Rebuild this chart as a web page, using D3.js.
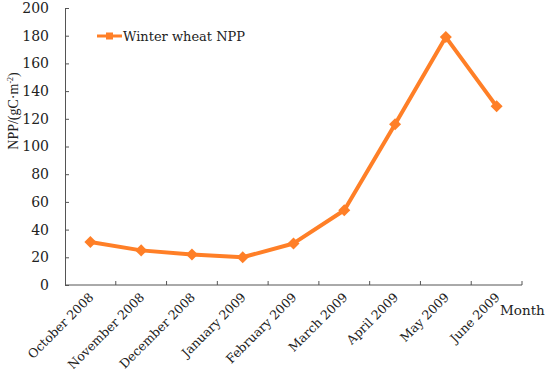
<!DOCTYPE html>
<html>
<head>
<meta charset="utf-8">
<script src="https://cdn.jsdelivr.net/npm/d3@7"></script>
<style>
  body { margin: 0; background: #fff; }
  text { font-family: "DejaVu Serif", "Liberation Serif", serif; fill: #222; }
</style>
</head>
<body>
<svg id="chart" width="550" height="369"></svg>
<script>
// data
var months = ["October 2008", "November 2008", "December 2008", "January 2009",
              "February 2009", "March 2009", "April 2009", "May 2009", "June 2009"];
var npp = [31, 25, 22, 20, 30, 54, 116, 179, 129];
var yTicks = [0, 20, 40, 60, 80, 100, 120, 140, 160, 180, 200];

var svg = d3.select("#chart");
var margin = {left: 65, right: 28, top: 8, bottom: 84};
var w = 550 - margin.left - margin.right,
    h = 369 - margin.top - margin.bottom;
var orange = "#ff7f27", axisColor = "#555";

var g = svg.append("g").attr("transform", "translate(" + margin.left + "," + margin.top + ")");

var x = d3.scaleBand().domain(months).range([0, w]);
var y = d3.scaleLinear().domain([0, 200]).range([h, 0]);

// y axis, ticks point inward
var yAxis = g.append("g").call(d3.axisLeft(y).tickValues(yTicks).tickSizeInner(-4).tickSizeOuter(-4).tickPadding(16));
yAxis.selectAll("text").style("font-size", "14px");
yAxis.selectAll("path, line").attr("stroke", axisColor);

// x axis: ticks at band boundaries, pointing up
var xAxis = g.append("g").attr("transform", "translate(0," + h + ")");
xAxis.append("line").attr("x1", 0).attr("x2", w).attr("stroke", axisColor);
var bounds = months.map(function(m) { return x(m) + x.bandwidth(); });
xAxis.selectAll("line.tick").data(bounds).enter().append("line")
  .attr("class", "tick")
  .attr("x1", function(d) { return d; }).attr("x2", function(d) { return d; })
  .attr("y1", 0).attr("y2", -4).attr("stroke", axisColor);
xAxis.selectAll("text.lab").data(months).enter().append("text")
  .attr("class", "lab")
  .attr("text-anchor", "end")
  .attr("transform", function(d) { return "translate(" + (x(d) + x.bandwidth() / 2 + 4) + ",13) rotate(-45)"; })
  .style("font-size", "12.5px")
  .text(function(d) { return d; });

svg.append("text").attr("x", 500).attr("y", 315).style("font-size", "13.5px").text("Month");

// y title
svg.append("text")
  .attr("transform", "translate(18,111) rotate(-90)")
  .attr("text-anchor", "middle")
  .style("font-family", "'Liberation Serif', serif")
  .style("font-size", "14px")
  .html("NPP/(gC·m<tspan dy='-5' style='font-size:8px'>-2</tspan><tspan dy='5'>)</tspan>");

// the series
var line = d3.line()
  .x(function(d, i) { return x(months[i]) + x.bandwidth() / 2; })
  .y(function(d) { return y(d); });

g.append("path").datum(npp)
  .attr("d", line)
  .attr("fill", "none")
  .attr("stroke", orange)
  .attr("stroke-width", 4)
  .attr("stroke-linejoin", "round");

g.selectAll("rect.pt").data(npp).enter().append("rect")
  .attr("class", "pt")
  .attr("width", 8.5).attr("height", 8.5)
  .attr("fill", orange)
  .attr("transform", function(d, i) {
    return "translate(" + (x(months[i]) + x.bandwidth() / 2) + "," + y(d) + ") rotate(45) translate(-4.25,-4.25)";
  });

// legend
var leg = svg.append("g").attr("transform", "translate(97,36)");
leg.append("line").attr("x1", 0).attr("x2", 25).attr("stroke", orange).attr("stroke-width", 3);
leg.append("rect").attr("x", 9).attr("y", -3.5).attr("width", 7).attr("height", 7).attr("fill", orange);
leg.append("text").attr("x", 26).attr("y", 5).style("font-size", "13px").text("Winter wheat NPP");
</script>
</body>
</html>
